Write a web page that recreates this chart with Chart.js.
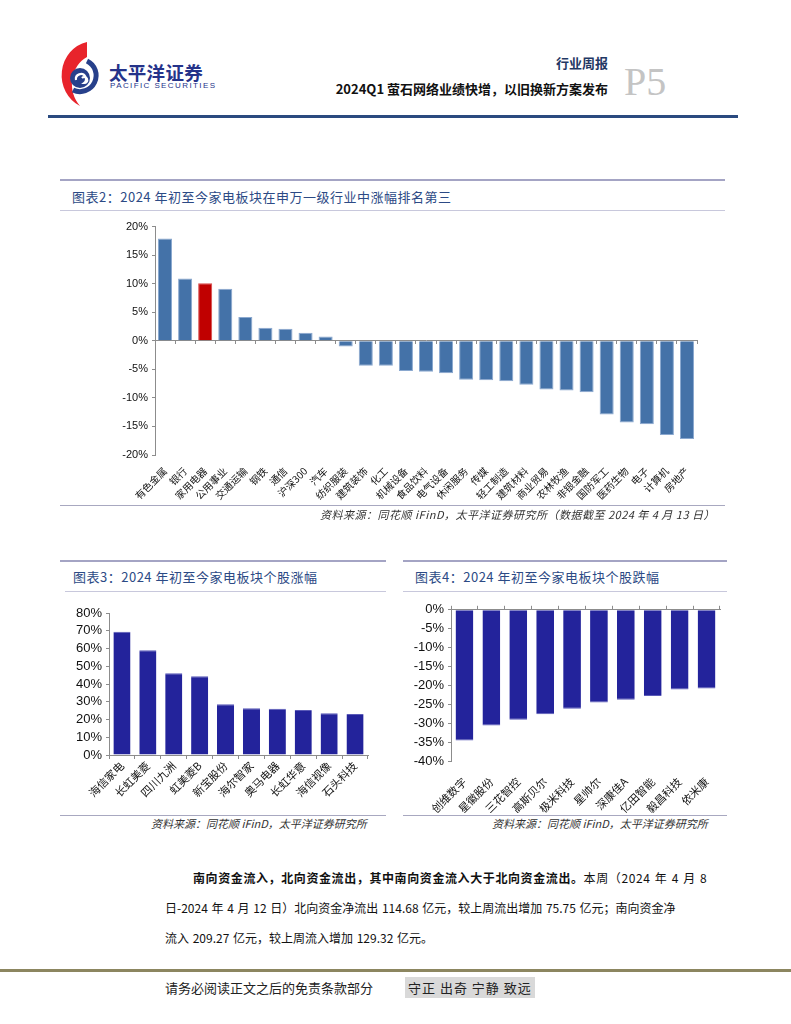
<!DOCTYPE html>
<html>
<head>
<meta charset="utf-8">
<script src="https://cdn.jsdelivr.net/npm/chart.js@4.4.1/dist/chart.umd.min.js"></script>
<style>
  body { margin: 0; background: #fff; font-family: "Noto Sans CJK SC", sans-serif; }
  #page { position: relative; width: 791px; height: 1024px; overflow: hidden; }
  .abs { position: absolute; white-space: nowrap; }
  .rule { position: absolute; }
  .title { font-size: 13px; color: #2c4a85; letter-spacing: 0.5px; }
  .src { font-size: 11px; font-style: italic; color: #333; }
  .para { font-size: 12px; color: #111; letter-spacing: 0; word-spacing: 1px; }
  canvas { position: absolute; }
</style>
</head>
<body>
<div id="page">
  <!-- header -->
  <svg class="abs" style="left:0;top:0" width="110" height="120" viewBox="0 0 110 120">
    <path d="M87 42 A32 34 0 0 0 80 106 A26 30 0 0 1 87 57 Z" fill="#e8242c"/>
    <path d="M87 61 A16 16 0 1 1 73 90" stroke="#27408b" stroke-width="5" fill="none"/>
    <circle cx="80" cy="78" r="10" fill="#27408b"/>
    <path d="M76 80 a5 5 0 1 1 8 3 a3 3 0 1 0 -2 -5" stroke="#fff" stroke-width="2.2" fill="none"/>
  </svg>
  <div class="abs" style="left:109px;top:59px;font-size:18.5px;font-weight:bold;color:#25338a;letter-spacing:0.3px">太平洋证券</div>
  <div class="abs" style="left:110px;top:81px;font-size:8px;color:#25338a;letter-spacing:1.4px;font-family:'Liberation Sans'">PACIFIC SECURITIES</div>
  <div class="abs" style="right:183px;top:53px;font-size:13px;font-weight:bold;color:#1f3864">行业周报</div>
  <div class="abs" style="right:183px;top:79px;font-size:13px;font-weight:bold;color:#111">2024Q1 萤石网络业绩快增，以旧换新方案发布</div>
  <div class="abs" style="left:624px;top:58px;font-size:40px;color:#c4c4c4;font-family:'Liberation Serif',serif">P5</div>
  <div class="rule" style="left:48px;top:115px;width:690px;height:3px;background:#2a4a7f"></div>

  <!-- figure 2 -->
  <div class="rule" style="left:60px;top:179px;width:665px;height:2px;background:#a4a4c4"></div>
  <div class="abs title" style="left:72px;top:187px">图表2：2024 年初至今家电板块在申万一级行业中涨幅排名第三</div>
  <div class="rule" style="left:60px;top:210px;width:665px;height:1px;background:#c8c8dc"></div>
  <canvas id="c2"></canvas>
  <div class="rule" style="left:60px;top:505px;width:665px;height:1px;background:#a8a8c0"></div>
  <div class="abs src" style="right:76px;top:506px;letter-spacing:0.5px">资料来源：同花顺 iFinD，太平洋证券研究所（数据截至 2024 年 4 月 13 日）</div>

  <!-- figure 3 -->
  <div class="rule" style="left:60px;top:560px;width:326px;height:2px;background:#a4a4c4"></div>
  <div class="abs title" style="left:73px;top:567px">图表3：2024 年初至今家电板块个股涨幅</div>
  <div class="rule" style="left:65px;top:591px;width:321px;height:1px;background:#c8c8dc"></div>
  <canvas id="c3"></canvas>
  <div class="rule" style="left:60px;top:815px;width:326px;height:1px;background:#a8a8c0"></div>
  <div class="abs src" style="left:151px;top:815px">资料来源：同花顺 iFinD，太平洋证券研究所</div>

  <!-- figure 4 -->
  <div class="rule" style="left:403px;top:560px;width:324px;height:2px;background:#a4a4c4"></div>
  <div class="abs title" style="left:415px;top:567px">图表4：2024 年初至今家电板块个股跌幅</div>
  <div class="rule" style="left:403px;top:591px;width:324px;height:1px;background:#c8c8dc"></div>
  <canvas id="c4"></canvas>
  <div class="rule" style="left:403px;top:815px;width:324px;height:1px;background:#a8a8c0"></div>
  <div class="abs src" style="left:492px;top:815px">资料来源：同花顺 iFinD，太平洋证券研究所</div>

  <!-- paragraph -->
  <div class="abs para" style="left:193px;top:869px;letter-spacing:0.6px"><b>南向资金流入，北向资金流出，其中南向资金流入大于北向资金流出。</b>本周（2024 年 4 月 8</div>
  <div class="abs para" style="left:165px;top:899px">日-2024 年 4 月 12 日）北向资金净流出 114.68 亿元，较上周流出增加 75.75 亿元；南向资金净</div>
  <div class="abs para" style="left:165px;top:929px">流入 209.27 亿元，较上周流入增加 129.32 亿元。</div>

  <!-- footer -->
  <div class="rule" style="left:0;top:969px;width:791px;height:3px;background:#8c8660"></div>
  <div class="abs" style="left:165px;top:978px;font-size:13px;color:#222">请务必阅读正文之后的免责条款部分</div>
  <div class="abs" style="left:405px;top:977px;font-size:13px;color:#222;background:#d9d9d9;padding:1px 3px;letter-spacing:1px">守正 出奇 宁静 致远</div>
</div>

<script>
'use strict';

// 图表2 申万一级行业 2024 年初至今涨跌幅（%）
const industries = ['有色金属', '银行', '家用电器', '公用事业', '交通运输', '钢铁', '通信', '沪深300', '汽车',
  '纺织服装', '建筑装饰', '化工', '机械设备', '食品饮料', '电气设备', '休闲服务', '传媒', '轻工制造',
  '建筑材料', '商业贸易', '农林牧渔', '非银金融', '国防军工', '医药生物', '电子', '计算机', '房地产'];
const industryChange = [17.9, 10.9, 10.1, 9.1, 4.15, 2.3, 2.1, 1.4, 0.75,
  -1.0, -4.35, -4.35, -5.3, -5.4, -5.7, -6.8, -6.9, -7.1,
  -7.7, -8.55, -8.7, -9.0, -12.9, -14.3, -14.6, -16.5, -17.2];
const highlightIndustry = '家用电器';

// 图表3 个股涨幅（%）
const gainers = ['海信家电', '长虹美菱', '四川九洲', '虹美菱B', '新宝股份', '海尔智家', '奥马电器', '长虹华意', '海信视像', '石头科技'];
const gainerChange = [69.4, 59.0, 46.1, 44.4, 28.6, 26.3, 26.0, 25.3, 23.5, 23.1];

// 图表4 个股跌幅（%）
const losers = ['创维数字', '星徽股份', '三花智控', '高斯贝尔', '极米科技', '星帅尔', '深康佳A', '亿田智能', '毅昌科技', '依米康'];
const loserChange = [-34.6, -30.6, -29.1, -27.6, -26.2, -24.5, -23.8, -22.8, -21.1, -20.8];

const axisGrey = '#8c8c8c';
const numFont = "'Liberation Sans', Arial, sans-serif";
const cjkFont = "'Noto Sans CJK SC', sans-serif";

function place(id, left, top, w, h) {
  const c = document.getElementById(id);
  c.style.left = left + 'px';
  c.style.top = top + 'px';
  c.width = w;
  c.height = h;
  return c;
}

const pct = v => v + '%';

// ---- 图表2 ----
new Chart(place('c2', 100, 216, 605, 290), {
  type: 'bar',
  data: {
    labels: industries,
    datasets: [{
      data: industryChange,
      backgroundColor: industries.map(n => n === highlightIndustry ? '#c00000' : '#4472a8'),
      borderColor: industries.map(n => n === highlightIndustry ? '#d84a4a' : '#8aa8cf'),
      borderWidth: 1,
      barPercentage: 0.7,
      categoryPercentage: 1.0
    }]
  },
  options: {
    responsive: false,
    animation: false,
    layout: { padding: { top: 10, right: 8 } },
    plugins: { legend: { display: false }, tooltip: { enabled: false } },
    scales: {
      x: {
        grid: { display: false },
        border: { display: false },
        ticks: { autoSkip: false, minRotation: 45, maxRotation: 45, padding: 2, color: '#111', font: { family: cjkFont, size: 10 } },
        afterFit: s => { s.height = 51; }
      },
      x2: {
        type: 'category',
        labels: industries,
        position: { y: 0 },
        offset: true,
        grid: { offset: true, drawOnChartArea: false, tickLength: 3, color: axisGrey },
        border: { color: axisGrey },
        ticks: { display: false }
      },
      y: {
        min: -20, max: 20,
        ticks: { autoSkip: false, stepSize: 5, callback: pct, color: '#111', padding: 4, font: { family: numFont, size: 11 } },
        grid: { drawOnChartArea: false, tickLength: 3, color: axisGrey },
        border: { color: axisGrey },
        afterFit: s => { s.width = 55; }
      }
    }
  }
});

// ---- 图表3 ----
new Chart(place('c3', 60, 600, 312, 215), {
  type: 'bar',
  data: {
    labels: gainers,
    datasets: [{
      data: gainerChange,
      backgroundColor: '#23239b',
      borderColor: '#5a5ab8',
      borderWidth: { top: 1, left: 0, right: 0, bottom: 0 },
      barPercentage: 0.66,
      categoryPercentage: 1.0
    }]
  },
  options: {
    responsive: false,
    animation: false,
    layout: { padding: { top: 13, right: 4 } },
    plugins: { legend: { display: false }, tooltip: { enabled: false } },
    scales: {
      x: {
        grid: { drawOnChartArea: false, tickLength: 4, color: axisGrey },
        border: { color: axisGrey },
        ticks: { autoSkip: false, minRotation: 45, maxRotation: 45, padding: 0, color: '#111', font: { family: cjkFont, size: 11 } },
        afterFit: s => { s.height = 60; }
      },
      y: {
        min: 0, max: 80,
        ticks: { autoSkip: false, stepSize: 10, callback: pct, color: '#111', padding: 4, font: { family: numFont, size: 13 } },
        grid: { drawOnChartArea: false, tickLength: 3, color: axisGrey },
        border: { color: axisGrey },
        afterFit: s => { s.width = 49; }
      }
    }
  }
});

// ---- 图表4 ----
new Chart(place('c4', 400, 598, 325, 215), {
  type: 'bar',
  data: {
    labels: losers,
    datasets: [{
      data: loserChange,
      backgroundColor: '#23239b',
      borderColor: '#5a5ab8',
      borderWidth: { top: 0, left: 0, right: 0, bottom: 1 },
      barPercentage: 0.66,
      categoryPercentage: 1.0
    }]
  },
  options: {
    responsive: false,
    animation: false,
    layout: { padding: { top: 6, right: 5 } },
    plugins: { legend: { display: false }, tooltip: { enabled: false } },
    scales: {
      x: {
        grid: { display: false },
        border: { display: false },
        ticks: { autoSkip: false, minRotation: 45, maxRotation: 45, padding: 6, color: '#111', font: { family: cjkFont, size: 11 } },
        afterFit: s => { s.height = 52; }
      },
      x2: {
        type: 'category',
        labels: losers,
        position: 'top',
        offset: true,
        grid: { offset: true, drawOnChartArea: false, tickLength: 4, color: axisGrey },
        border: { color: axisGrey },
        ticks: { display: false },
        afterFit: s => { s.height = 5; }
      },
      y: {
        min: -40, max: 0,
        ticks: { autoSkip: false, stepSize: 5, callback: pct, color: '#111', padding: 4, font: { family: numFont, size: 13 } },
        grid: { drawOnChartArea: false, tickLength: 3, color: axisGrey },
        border: { color: axisGrey },
        afterFit: s => { s.width = 51; }
      }
    }
  }
});
</script>
</body>
</html>
